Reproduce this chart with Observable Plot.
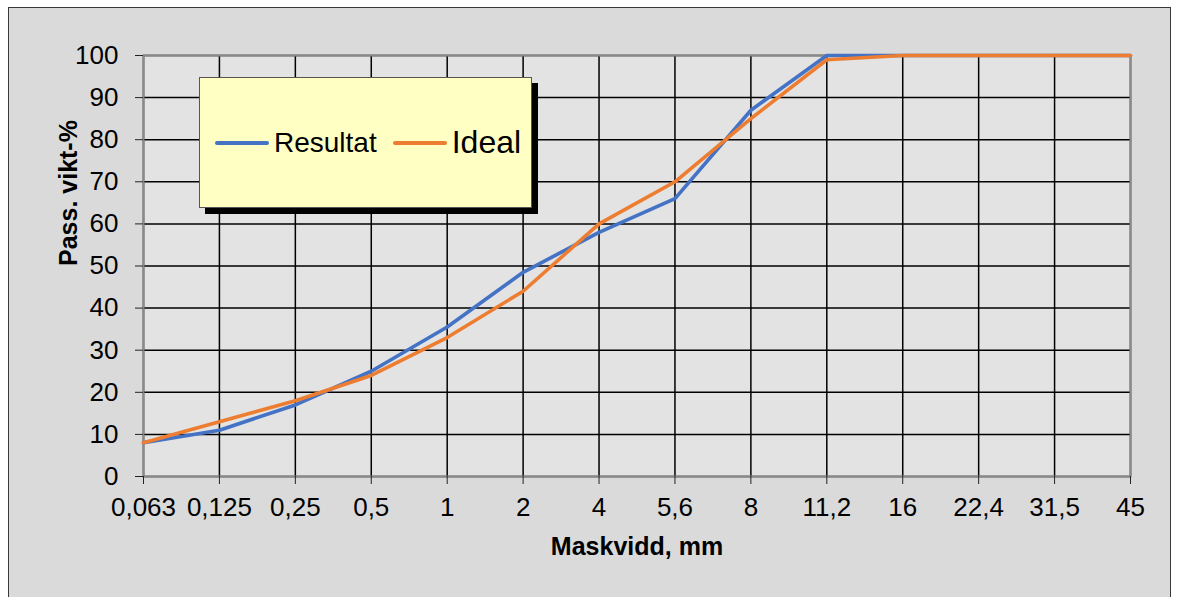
<!DOCTYPE html>
<html>
<head>
<meta charset="utf-8">
<script src="https://cdn.jsdelivr.net/npm/d3@7"></script>
<script src="https://cdn.jsdelivr.net/npm/@observablehq/plot@0.6"></script>
<style>
  html, body { margin: 0; padding: 0; background: #ffffff; }
  #panel {
    position: absolute; left: 8px; top: 7px; width: 1163px; height: 600px;
    background: #dadada; border: 1.5px solid #3a3a3a; box-sizing: border-box;
  }
  #chart { position: absolute; left: 0; top: 0; }
  #legend {
    position: absolute; left: 199px; top: 77px; width: 333px; height: 131px;
    box-sizing: border-box; background: #ffffc4; border: 1px solid #555;
    box-shadow: 6px 6px 0 #000;
    display: flex; align-items: center;
    font-family: "Liberation Sans", Arial, sans-serif; color: #000;
  }
  .sw { display: inline-block; width: 54px; height: 4px; border-radius: 2px; }
</style>
</head>
<body>
<div id="panel"></div>
<div id="chart"></div>
<div id="legend">
  <span class="sw" style="background:#4472c4;margin-left:15px"></span>
  <span style="font-size:28px;margin-left:5px">Resultat</span>
  <span class="sw" style="background:#ed7d31;margin-left:16px"></span>
  <span style="font-size:32px;margin-left:5px">Ideal</span>
</div>
<script>
// Sieve sizes (mm) and passing percentages by weight
const sizes = ["0,063", "0,125", "0,25", "0,5", "1", "2", "4", "5,6", "8", "11,2", "16", "22,4", "31,5", "45"];
const resultat = [8, 11, 17, 25, 35.5, 48.5, 58, 66, 87, 100, 100, 100, 100, 100];
const ideal = [8, 13, 18, 24, 33, 44, 60, 70, 85, 99, 100, 100, 100, 100];
const yTicks = [0, 10, 20, 30, 40, 50, 60, 70, 80, 90, 100];

const rows = (vals, serie) => sizes.map((s, i) => ({size: s, pass: vals[i], serie}));
const resData = rows(resultat, "Resultat");
const idealData = rows(ideal, "Ideal");

const chart = Plot.plot({
  width: 1178,
  height: 597,
  marginLeft: 143,
  marginRight: 48,
  marginTop: 55,
  marginBottom: 121,
  style: {background: "transparent", fontFamily: "Liberation Sans, Arial, sans-serif", color: "#000"},
  x: {type: "point", domain: sizes, padding: 0, round: false},
  y: {domain: [0, 100]},
  marks: [
    Plot.frame({fill: "#e3e3e3"}),
    Plot.gridX({stroke: "#000", strokeOpacity: 1, strokeWidth: 1.5}),
    Plot.gridY(yTicks, {stroke: "#000", strokeOpacity: 1, strokeWidth: 1.5}),
    Plot.frame({stroke: "#8a8a8a", strokeWidth: 2}),
    Plot.axisY(yTicks, {tickSize: 8, tickPadding: 17, fontSize: 26, label: null, stroke: "#222"}),
    Plot.axisX({tickSize: 8, tickPadding: 13, fontSize: 26, label: null, stroke: "#222"}),
    Plot.line(resData, {x: "size", y: "pass", stroke: "#4472c4", strokeWidth: 3.6}),
    Plot.line(idealData, {x: "size", y: "pass", stroke: "#ed7d31", strokeWidth: 3.6}),
    Plot.text(["Pass. vikt-%"], {frameAnchor: "left", dx: -75, rotate: -90, fontSize: 25, fontWeight: "bold"}),
    Plot.text(["Maskvidd, mm"], {frameAnchor: "bottom", dy: 78, fontSize: 25, fontWeight: "bold"})
  ]
});
document.getElementById("chart").appendChild(chart);
</script>
</body>
</html>
